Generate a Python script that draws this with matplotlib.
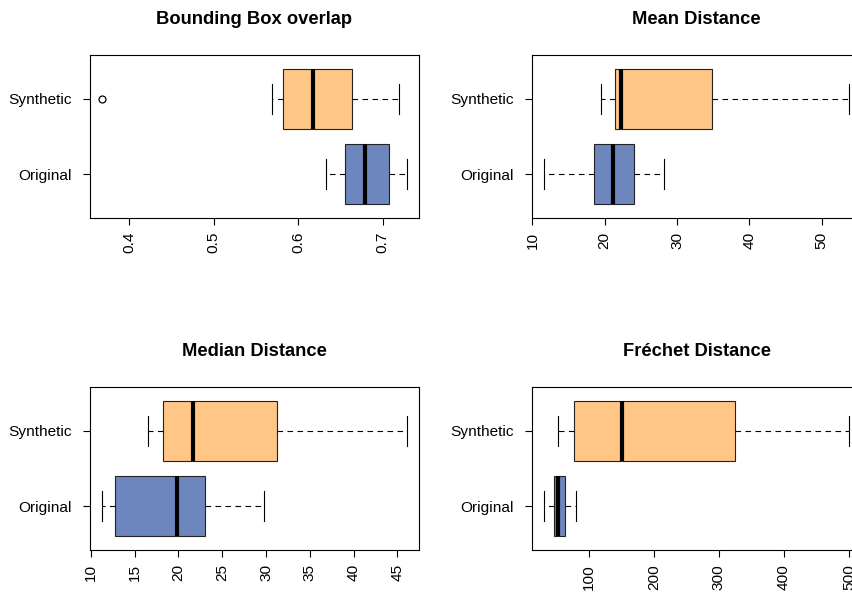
import matplotlib
matplotlib.use('Agg')
import matplotlib.pyplot as plt

plt.rcParams['font.family'] = ['Liberation Sans', 'DejaVu Sans']

# --- data (five-number summaries) ---
groups = ["Original", "Synthetic"]

titles = ["Bounding Box overlap", "Mean Distance", "Median Distance", "Fréchet Distance"]

# order per group: whisker low, Q1, median, Q3, whisker high
bbox_original = [0.633, 0.655, 0.679, 0.708, 0.7285]
bbox_synthetic = [0.5695, 0.5825, 0.6177, 0.6633, 0.7195]
bbox_synthetic_out = [0.368]

mean_original = [11.67, 18.56, 21.2, 24.03, 28.15]
mean_synthetic = [19.54, 21.43, 22.32, 34.82, 53.8]

median_original = [11.3, 12.75, 19.81, 23.05, 29.73]
median_synthetic = [16.53, 18.24, 21.68, 31.22, 46.08]

frechet_original = [32.0, 46.5, 52.6, 63.9, 79.8]
frechet_synthetic = [53.2, 77.8, 151.8, 324.4, 500.0]

bbox_ticks = [0.4, 0.5, 0.6, 0.7]
mean_ticks = [10, 20, 30, 40, 50]
median_ticks = [10, 15, 20, 25, 30, 35, 40, 45]
frechet_ticks = [100, 200, 300, 400, 500]

BLUE = '#6E86BE'
ORANGE = '#FFC685'

W, H = 853, 593
fig = plt.figure(figsize=(W / 100, H / 100), dpi=100)


def make_stats(five, fliers):
    lo, q1, med, q3, hi = five
    return dict(whislo=lo, q1=q1, med=med, q3=q3, whishi=hi, fliers=fliers)


def panel(px_left, px_top, title, orig, synth, synth_out, ticks):
    # axes placed in pixel coordinates of the figure (right column runs off the edge)
    px_w, px_h = 329, 163
    ax = fig.add_axes([px_left / W, 1 - (px_top + px_h) / H, px_w / W, px_h / H])
    stats = [make_stats(orig, []), make_stats(synth, synth_out)]
    parts = ax.bxp(stats, positions=[1, 2], widths=0.8, orientation='horizontal',
                   patch_artist=True, capwidths=0.4,
                   boxprops=dict(edgecolor='#222222', linewidth=0.8),
                   whiskerprops=dict(color='black', linewidth=0.8, linestyle=(0, (5, 4))),
                   capprops=dict(color='black', linewidth=0.8),
                   medianprops=dict(color='black', linewidth=3.0, solid_capstyle='butt'),
                   flierprops=dict(marker='o', markersize=5, markerfacecolor='none',
                                   markeredgecolor='black', markeredgewidth=0.9))
    for box, col in zip(parts['boxes'], [BLUE, ORANGE]):
        box.set_facecolor(col)

    allvals = orig + synth + synth_out
    lo, hi = min(allvals), max(allvals)
    pad = 0.04 * (hi - lo)
    ax.set_xlim(lo - pad, hi + pad)
    ax.set_ylim(0.42, 2.58)

    ax.set_yticks([1, 2])
    ax.set_yticklabels(groups)
    ax.set_xticks(ticks)
    ax.set_xticklabels([f"{t:g}" for t in ticks], rotation=90)
    ax.tick_params(axis='both', length=5, width=0.8, labelsize=11.1, colors='black')
    ax.tick_params(axis='y', pad=8)
    ax.tick_params(axis='x', pad=5)
    for s in ax.spines.values():
        s.set_linewidth(0.8)
        s.set_color('black')

    cx = (px_left + px_w / 2) / W
    fig.text(cx, 1 - (px_top - 36) / H, title, ha='center', va='center',
             fontsize=13.2, fontweight='bold')
    return ax


panel(90, 55, titles[0], bbox_original, bbox_synthetic, bbox_synthetic_out, bbox_ticks)
panel(532.3, 55, titles[1], mean_original, mean_synthetic, [], mean_ticks)
panel(90, 387, titles[2], median_original, median_synthetic, [], median_ticks)
panel(532.3, 387, titles[3], frechet_original, frechet_synthetic, [], frechet_ticks)

fig.savefig("out.png", dpi=100)
